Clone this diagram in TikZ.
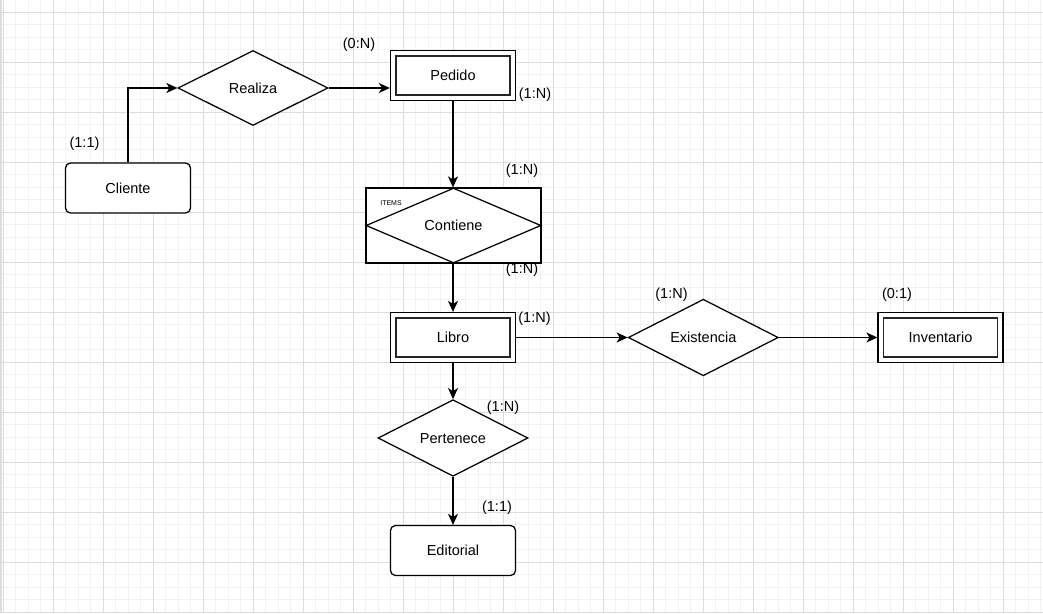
\documentclass[tikz,border=0pt]{standalone}
\usepackage{fontspec}
\setmainfont{Liberation Sans}
\usetikzlibrary{shapes.geometric,arrows.meta}
\definecolor{gminor}{HTML}{F2F2F2}
\definecolor{gmajor}{HTML}{DDDDDD}
\tikzset{
  ent/.style={draw=black, line width=1.25pt, fill=white, rectangle, minimum width=125pt, minimum height=50pt, inner sep=0pt, text height=10.5pt, text depth=0pt, font=\fontsize{14.5}{17}\selectfont},
  rent/.style={ent, rounded corners=5pt},
  rel/.style={draw=black, line width=1.25pt, fill=white, diamond, minimum width=150pt, minimum height=75pt, inner sep=0pt, text height=10.5pt, text depth=0pt, font=\fontsize{14.5}{17}\selectfont},
  card/.style={inner sep=0pt, font=\fontsize{14.5}{17}\selectfont},
  arr/.style={line width=1.25pt, -{Stealth[length=11pt,width=10pt,inset=3pt]}},
  innerbox/.style={draw=black!85, line width=1.4pt},
}
\begin{document}
\begin{tikzpicture}[x=1pt,y=-1pt]
\useasboundingbox (0,0) rectangle (1043,613);
\fill[white] (0,0) rectangle (1043,613);
% grid
\foreach \i in {0,...,83} {
  \pgfmathsetmacro{\gx}{3.3+12.5*\i}
  \draw[gminor, line width=0.8pt] (\gx,0) -- (\gx,613);
}
\foreach \i in {0,...,49} {
  \pgfmathsetmacro{\gy}{-0.2+12.5*\i}
  \draw[gminor, line width=0.8pt] (0,\gy) -- (1043,\gy);
}
\foreach \i in {0,...,20} {
  \pgfmathsetmacro{\gx}{3.3+50*\i}
  \draw[gmajor, line width=0.8pt] (\gx,0) -- (\gx,613);
}
\foreach \i in {0,...,12} {
  \pgfmathsetmacro{\gy}{12.3+50*\i}
  \draw[gmajor, line width=0.8pt] (0,\gy) -- (1043,\gy);
}
\fill[gmajor] (0,0) rectangle (2,613);

% entities
\node[rent] (cli) at (128,188) {Cliente};
\node[rel] (rea) at (253,88) {Realiza};
\node[ent] (ped) at (453,75.5) {Pedido};
\draw[innerbox] ([shift={(6,6)}]ped.north west) rectangle ([shift={(-6,-6)}]ped.south east);

\node[ent, minimum width=175pt, minimum height=75pt] (contbox) at (453.5,225.5) {};
\node[rel, minimum width=175pt, minimum height=75pt] (cont) at (453.5,225.5) {Contiene};
\node[inner sep=0pt, font=\fontsize{7}{8}\selectfont] (items) at (391,203) {ITEMS};

\node[ent] (lib) at (453,337.5) {Libro};
\draw[innerbox] ([shift={(6,6)}]lib.north west) rectangle ([shift={(-6,-6)}]lib.south east);

\node[rel] (exi) at (703.3,337.5) {Existencia};
\node[ent] (inv) at (940.5,337.5) {Inventario};
\draw[innerbox] ([shift={(6,6)}]inv.north west) rectangle ([shift={(-6,-6)}]inv.south east);

\node[rel] (per) at (453,438) {Pertenece};
\node[rent] (edi) at (453,550.5) {Editorial};

% connectors
\draw[arr] (cli.north) |- (rea.west);
\draw[arr] (rea.east) -- (rea.east -| ped.west);
\draw[arr] (ped.south) -- (contbox.north -| ped.south);
\draw[arr] (contbox.south -| lib.north) -- (lib.north);
\draw[arr] (lib.east) -- (exi.west);
\draw[arr] (exi.east) -- (inv.west);
\draw[arr] (lib.south) -- (per.north);
\draw[arr] (per.south) -- (edi.north);

% cardinalities
\node[card] (c1) at (84.5,144) {(1:1)};
\node[card] (c2) at (359,45) {(0:N)};
\node[card] (c3) at (535,95) {(1:N)};
\node[card] (c4) at (522,170.5) {(1:N)};
\node[card] (c5) at (522,269.5) {(1:N)};
\node[card] (c6) at (534.5,319) {(1:N)};
\node[card] (c7) at (671.5,294.5) {(1:N)};
\node[card] (c8) at (897,294.5) {(0:1)};
\node[card] (c9) at (503,407.5) {(1:N)};
\node[card] (c10) at (497,508) {(1:1)};
\end{tikzpicture}
\end{document}
